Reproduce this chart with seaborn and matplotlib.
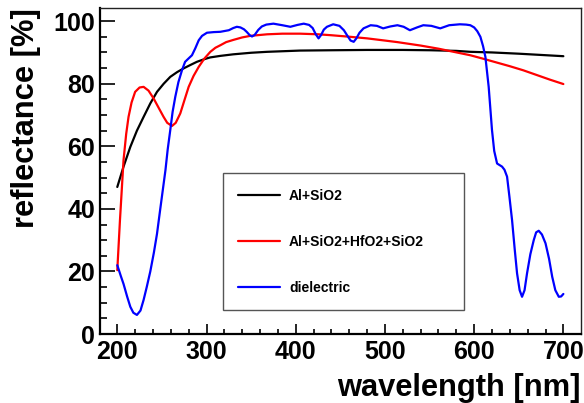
import pandas as pd
import matplotlib
matplotlib.use("Agg")
import matplotlib.pyplot as plt
import seaborn as sns
from matplotlib.ticker import MultipleLocator

# wavelength [nm] / reflectance [%]
al_nm = [200, 207, 214.6, 222, 229.5, 237, 244.5, 252, 259.4, 267, 274.3, 282,
         289.2, 297, 304, 315.5, 330, 350, 368, 405, 440, 480, 520, 551, 580,
         595.7, 620, 650, 675, 700]
al_r = [47, 53.5, 59.8, 65, 69.4, 73.7, 77.4, 80, 82.2, 83.7, 84.9, 86,
        87, 87.8, 88.4, 88.9, 89.4, 89.9, 90.2, 90.6, 90.7, 90.8, 90.8, 90.7, 90.5,
        90.2, 90, 89.6, 89.2, 88.8]

hf_nm = [200, 203, 207, 210, 212.6, 216, 220, 225, 229.5, 235, 240.7, 246, 251.9,
         256, 261.3, 265.5, 270.6, 275, 280, 285.5, 291.3, 297.5, 304.3, 310,
         315.5, 322, 330, 340, 349, 368, 385, 405, 425, 440, 461, 480, 500, 514,
         540, 560, 577, 595.7, 610, 625, 640, 655, 670, 685, 700]
hf_r = [20.4, 36.4, 55.6, 64, 69.4, 74, 77.4, 78.8, 79, 77.8, 75.3, 72.5, 69.4,
        67.5, 66.5, 67.5, 70.5, 74.5, 79, 82.5, 85.4, 88, 90.2, 91.5,
        92.3, 93.3, 94, 94.8, 95.3, 95.8, 96, 96, 95.8, 95.5, 95, 94.5, 93.8, 93.3,
        92.2, 91.2, 90.2, 89.1, 88, 86.8, 85.6, 84.3, 82.8, 81.3, 79.9]

di_nm = [200, 204, 207, 211, 214.6, 218, 222, 226, 229.5, 233, 237, 241, 244.5,
         248, 251, 254, 256.5, 259.4, 262, 265, 268.5, 272.5, 276, 280, 283.7,
         287.4, 291.3, 295, 300.5, 308, 315.5, 325, 330, 334, 338, 342, 345,
         348.5, 351, 354, 358, 362, 367, 375, 385, 394, 402, 409, 415, 419,
         422.5, 425.6, 428.5, 431.5, 435, 442, 449, 454, 458, 461.5, 465, 468,
         471.5, 476, 484, 491, 498, 506, 514, 521, 528, 536, 543, 552, 562, 572,
         584, 591, 595.7, 600, 603.5, 607, 610, 612.6, 616.3, 620, 622.5, 625.7,
         628.5, 631.3, 634, 636.9, 639.5, 642.5, 645.5, 648.1, 651, 653.7, 656.5,
         659.3, 663, 666.8, 669.5, 672.4, 676, 680, 684, 687.5, 691, 694.9,
         697.5, 700]
di_r = [22, 18.5, 16, 12, 8.7, 6.8, 6.1, 7.5, 10.9, 15, 20, 26, 32,
        39.6, 46, 52.4, 59, 65.2, 71, 75.8, 80.5, 84.3, 87, 88.1, 89.1,
        91.3, 93.9, 95.3, 96.3, 96.5, 96.6, 97.1, 97.8, 98.2, 98, 97.4, 96.6,
        95.5, 95.1, 95.6, 97.2, 98.3, 98.9, 99.2, 98.7, 98.2, 98.8, 99.2, 98.8, 97.8,
        95.8, 94.5, 95.6, 97.3, 98.2, 99, 98.5, 97.1, 95.3, 93.8, 93.4, 94.5,
        96.3, 97.7, 98.7, 98.5, 97.7, 98.3, 98.7, 98.2, 97.1, 98, 98.7, 98.5, 97.7, 98.7,
        99, 98.9, 98.7, 98, 96.8, 95, 92, 88.6, 79, 65.2, 58.5, 54.5,
        54, 53.5, 52.5, 50.3, 44, 36.4, 27, 19.4, 14, 11.9, 14,
        19.4, 25.5, 30, 32.5, 33, 31.8, 29, 24, 18.3, 14, 11.9,
        12, 12.8]

series = [
    ("Al+SiO2", al_nm, al_r, "black"),
    ("Al+SiO2+HfO2+SiO2", hf_nm, hf_r, "red"),
    ("dielectric", di_nm, di_r, "blue"),
]

sns.set_style("ticks")
plt.rcParams["font.family"] = ["Liberation Sans", "DejaVu Sans"]
plt.rcParams["font.weight"] = "bold"

fig = plt.figure(figsize=(5.84, 4.03), dpi=100)
ax = fig.add_axes([0.1712, 0.1712, 0.8237, 0.8089])

for name, xs, ys, col in series:
    df = pd.DataFrame({"wavelength": xs, "reflectance": ys})
    sns.lineplot(data=df, x="wavelength", y="reflectance", color=col,
                 linewidth=1.6, label=name, estimator=None, ax=ax)
for ln in ax.get_lines():
    ln.set_solid_joinstyle("round")

ax.set_xlim(180.6, 719.8)
ax.set_ylim(0, 104.2)
ax.xaxis.set_major_locator(MultipleLocator(100))
ax.xaxis.set_minor_locator(MultipleLocator(20))
ax.yaxis.set_major_locator(MultipleLocator(20))
ax.yaxis.set_minor_locator(MultipleLocator(5))
ax.tick_params(axis="both", which="both", direction="in", top=False, right=False,
               labelsize=18, width=1.2, colors="black")
ax.tick_params(axis="y", which="major", length=10.5, pad=3.5)
ax.tick_params(axis="y", which="minor", length=5)
ax.tick_params(axis="x", which="major", length=7.2, pad=4)
ax.tick_params(axis="x", which="minor", length=3.6)
for lab in ax.get_xticklabels() + ax.get_yticklabels():
    lab.set_fontweight("bold")

for side in ["left", "bottom"]:
    ax.spines[side].set_linewidth(1.6)
    ax.spines[side].set_color("black")
for side in ["top", "right"]:
    ax.spines[side].set_linewidth(1.0)
    ax.spines[side].set_color("#222222")

ax.set_xlabel("wavelength [nm]", fontsize=22.2, fontweight="bold", loc="right",
              labelpad=7, color="black")
ax.set_ylabel("reflectance [%]", fontsize=22.2, fontweight="bold", loc="top",
              labelpad=9, color="black")

leg = ax.legend(loc="lower left", bbox_to_anchor=(0.256, 0.074, 0.501, 0.429),
                mode="expand", borderaxespad=0, handlelength=3.0,
                handletextpad=0.65, labelspacing=2.3, borderpad=1.1,
                fancybox=False, framealpha=1, edgecolor="#555555",
                prop={"family": "Liberation Sans", "weight": "bold", "size": 10})
leg.get_frame().set_linewidth(1.0)
for t in leg.get_texts():
    t.set_color("black")

fig.savefig("out.png", dpi=100)
